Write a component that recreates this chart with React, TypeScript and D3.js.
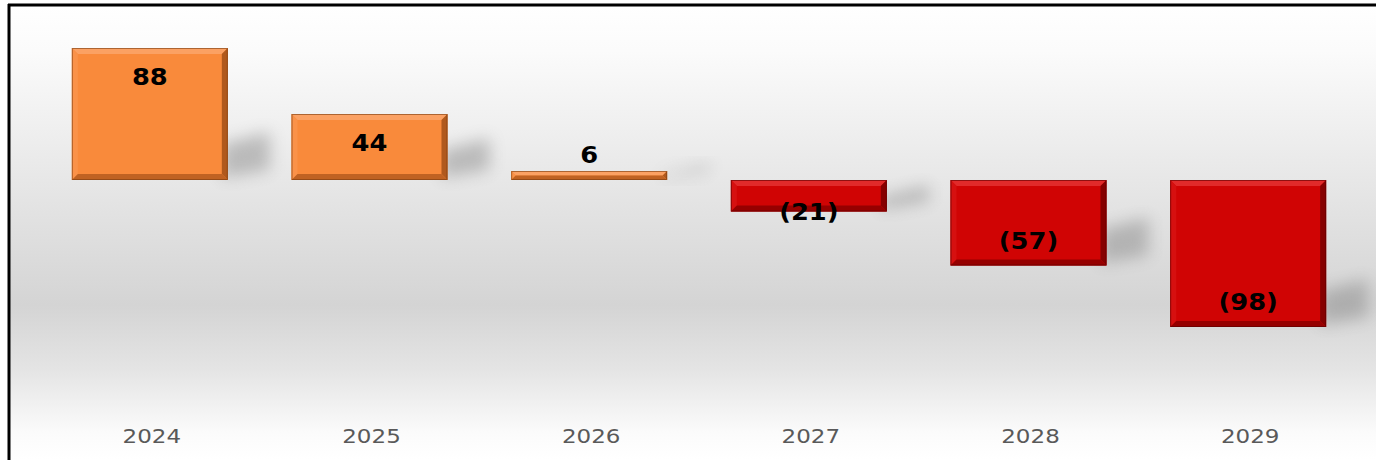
import * as d3 from 'd3';
import React from 'react';

// yearly values, shown as up/down bars from a zero line
const years = ['2024', '2025', '2026', '2027', '2028', '2029'];
const values = [88, 44, 6, -21, -57, -98];
const valueLabels = ['88', '44', '6', '(21)', '(57)', '(98)'];

const W = 1376;
const H = 460;
const params = {
  left: 40,
  right: 1358,
  zeroY: 180,
  pxPerUnit: 1.5,
  bevel: 6,
};

const palette = {
  pos: { face: '#f98a3b', top: '#fba163', left: '#fa9249', right: '#b0591d', bottom: '#c06222', edge: '#7a3c10' },
  neg: { face: '#d00404', top: '#e12a2a', left: '#d61010', right: '#860000', bottom: '#960000', edge: '#5a0000' },
};

function Bar({ x, y, w, h, c }: { x: number; y: number; w: number; h: number; c: typeof palette.pos }) {
  const b = Math.min(params.bevel, h / 2);
  const x2 = x + w, y2 = y + h;
  return (
    <g>
      <rect x={x} y={y} width={w} height={h} fill={c.face} />
      <polygon points={`${x},${y} ${x2},${y} ${x2 - b},${y + b} ${x + b},${y + b}`} fill={c.top} />
      <polygon points={`${x},${y} ${x + b},${y + b} ${x + b},${y2 - b} ${x},${y2}`} fill={c.left} />
      <polygon points={`${x2},${y} ${x2},${y2} ${x2 - b},${y2 - b} ${x2 - b},${y + b}`} fill={c.right} />
      <polygon points={`${x},${y2} ${x2},${y2} ${x2 - b},${y2 - b} ${x + b},${y2 - b}`} fill={c.bottom} />
      <rect x={x + 0.5} y={y + 0.5} width={w - 1} height={h - 1} fill="none" stroke={c.edge} strokeWidth={1} opacity={0.6} />
    </g>
  );
}

export default function App() {
  const xScale = d3.scaleBand().domain(years).range([params.left, params.right]).paddingInner(0.29).paddingOuter(0.145);
  const yScale = d3
    .scaleLinear()
    .domain([0, 1])
    .range([params.zeroY, params.zeroY - params.pxPerUnit]);

  const bars = years.map((yr, i) => {
    const v = values[i];
    const x = xScale(yr) as number;
    const w = xScale.bandwidth();
    const y0 = yScale(0);
    const y1 = yScale(v);
    const top = Math.min(y0, y1);
    const h = Math.abs(y1 - y0);
    const c = v >= 0 ? palette.pos : palette.neg;
    const bottom = top + h;

    // label placement like excel "inside end", small bars pushed outside
    let ly;
    if (h >= 60) ly = v >= 0 ? top + 29 : bottom - 25;
    else ly = v >= 0 ? top - 16 : bottom;

    const sh = Math.min(36, h * 0.45);
    const shadow = `${x + w - 6},${bottom - 2} ${x + w - 6},${bottom - sh} ${x + w + 42},${bottom - sh - 12} ${x + w + 42},${bottom - 10}`;

    return (
      <g key={yr}>
        <polygon points={shadow} fill="#808080" opacity={0.45} filter="url(#blur)" />
        <Bar x={x} y={top} w={w} h={h} c={c} />
        <text
          transform={`translate(${x + w / 2},${ly}) scale(1.12,1)`}
          textAnchor="middle"
          dominantBaseline="central"
          fontFamily="'DejaVu Sans', Verdana, sans-serif"
          fontWeight="bold"
          fontSize={23}
          fill="#000"
        >
          {valueLabels[i]}
        </text>
      </g>
    );
  });

  return (
    <div style={{ position: 'absolute', left: 0, top: 0, width: W, height: H, overflow: 'hidden' }}>
      <svg width={W} height={H} style={{ display: 'block' }}>
        <defs>
          <linearGradient id="bg" x1="0" y1="0" x2="0" y2="1">
            <stop offset="0" stopColor="#ffffff" />
            <stop offset="0.1" stopColor="#fbfbfb" />
            <stop offset="0.66" stopColor="#d4d4d4" />
            <stop offset="0.8" stopColor="#e4e4e4" />
            <stop offset="0.94" stopColor="#fbfbfb" />
            <stop offset="1" stopColor="#ffffff" />
          </linearGradient>
          <filter id="blur" x="-50%" y="-50%" width="200%" height="200%">
            <feGaussianBlur stdDeviation="8" />
          </filter>
        </defs>
        <rect x={0} y={0} width={W} height={H} fill="#fff" />
        <rect x={9} y={5} width={W - 9} height={H - 5} fill="url(#bg)" />
        {bars}
        {years.map((yr) => (
          <text
            key={yr}
            transform={`translate(${(xScale(yr) as number) + xScale.bandwidth() / 2 + 2},443) scale(1.15,1)`}
            textAnchor="middle"
            fontFamily="'DejaVu Sans', sans-serif"
            fontSize={20}
            fill="#595959"
          >
            {yr}
          </text>
        ))}
        <line x1={8} y1={5} x2={W} y2={5} stroke="#000" strokeWidth={3} />
        <line x1={9} y1={4} x2={9} y2={H} stroke="#000" strokeWidth={3} />
      </svg>
    </div>
  );
}
